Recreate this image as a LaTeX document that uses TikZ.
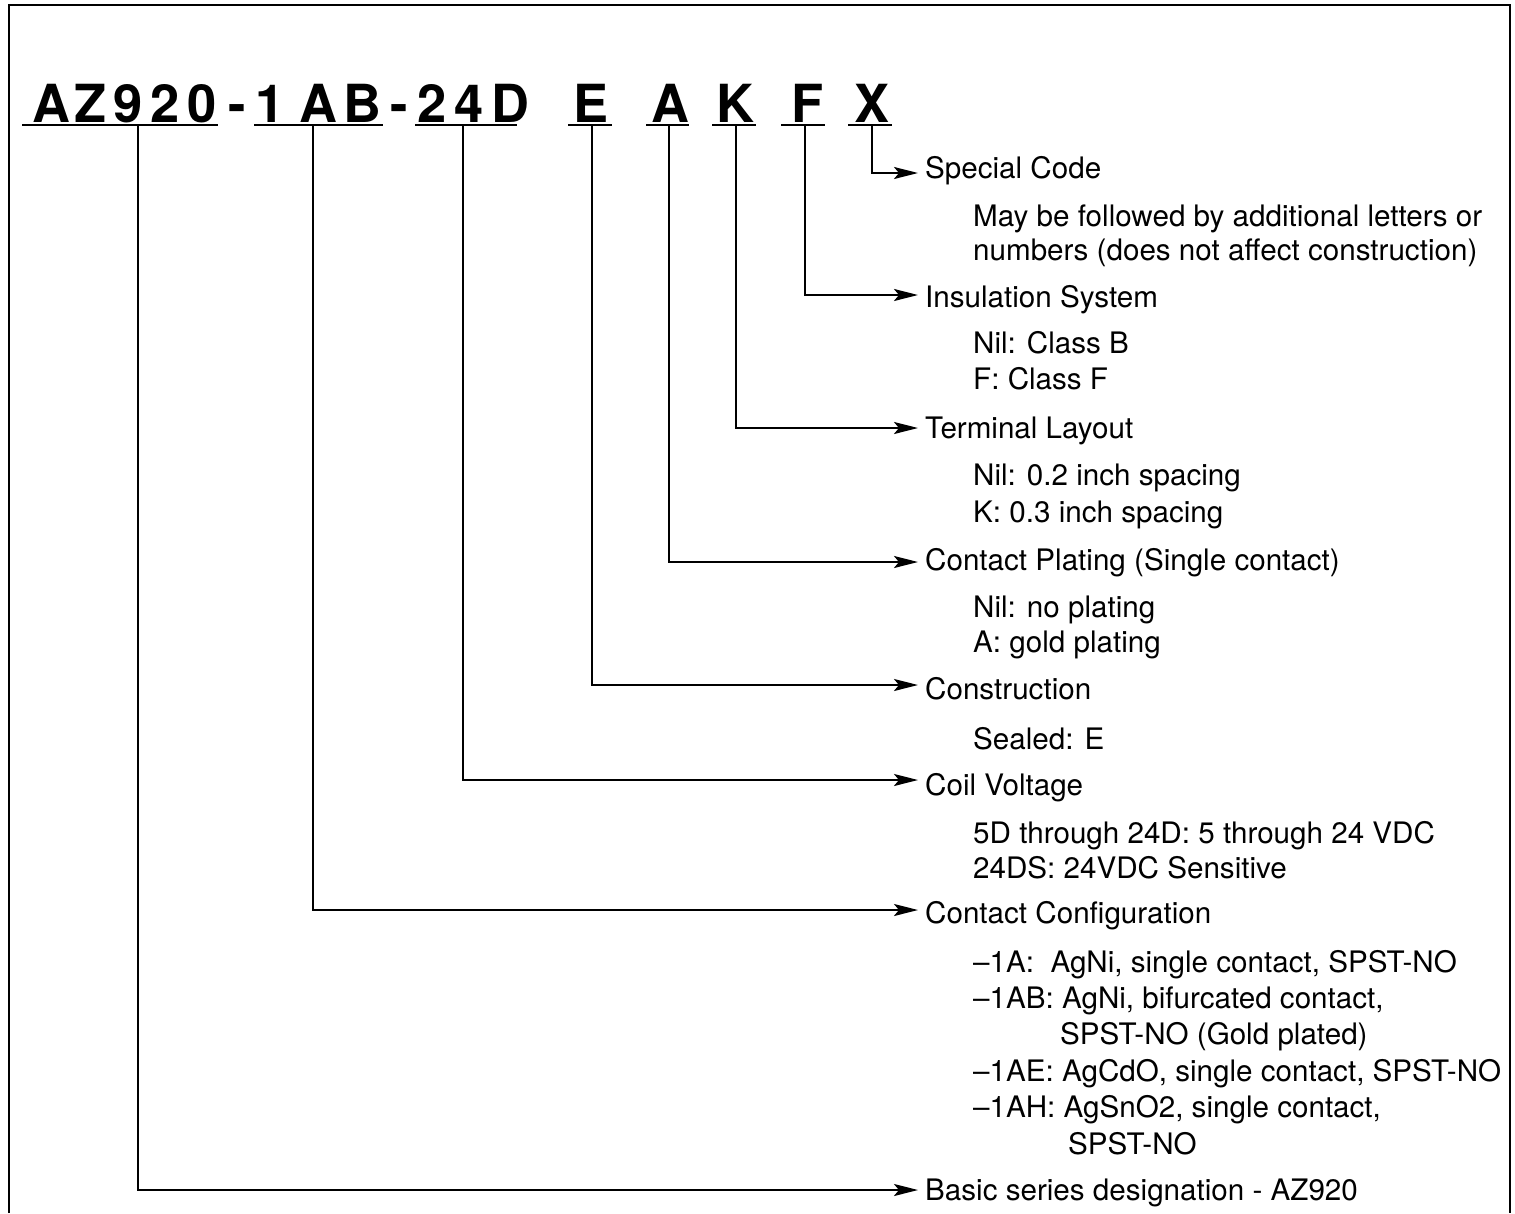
\documentclass[tikz,border=0pt]{standalone}
\usepackage{fontspec}
\setmainfont{TeX Gyre Heros}
\usetikzlibrary{arrows.meta}
\tikzset{
  ttl/.style={font=\fontsize{52.5}{52}\selectfont\bfseries, anchor=base, inner sep=0pt},
  hd/.style={font=\fontsize{29.6}{34}\selectfont, anchor=base west, inner xsep=7pt, inner ysep=0pt},
  sub/.style={font=\fontsize{29.6}{34}\selectfont, anchor=base west, inner sep=0pt},
  conn/.style={-{Stealth[length=24pt,width=12pt,inset=5pt]}, line width=2.4pt},
  uline/.style={line width=2.4pt},
  frm/.style={line width=2.8pt}
}
\begin{document}
\begin{tikzpicture}[x=1pt,y=-1pt]
\useasboundingbox (0,0) rectangle (1515,1213);
% frame (open at the bottom)
\draw[frm] (9,1213) -- (9,5) -- (1510,5) -- (1510,1213);

% title characters
\node[ttl] (c1) at (51.5,122) {A};
\node[ttl] (c2) at (91,122) {Z};
\node[ttl] (c3) at (128,122) {9};
\node[ttl] (c4) at (165,122) {2};
\node[ttl] (c5) at (202,122) {0};
\node[ttl] (c6) at (237,122) {-};
\node[ttl] (c7) at (270,122) {1};
\node[ttl] (c8) at (318,122) {A};
\node[ttl] (c9) at (362,122) {B};
\node[ttl] (c10) at (399,122) {-};
\node[ttl] (c11) at (432,122) {2};
\node[ttl] (c12) at (469,122) {4};
\node[ttl] (c13) at (510,122) {D};
\node[ttl] (c14) at (591,122) {E};
\node[ttl] (c15) at (670,122) {A};
\node[ttl] (c16) at (735,122) {K};
\node[ttl] (c17) at (808,122) {F};
\node[ttl] (c18) at (872,122) {X};

% underlines
\draw[uline] (22,125) -- (218,125);
\draw[uline] (254,125) -- (383,125);
\draw[uline] (415,125) -- (517,125);
\draw[uline] (568,125) -- (612,125);
\draw[uline] (646,125) -- (689,125);
\draw[uline] (712,125) -- (756,125);
\draw[uline] (781,125) -- (825,125);
\draw[uline] (848,125) -- (892,125);

% connector start points
\coordinate (uAZ) at (138,125);
\coordinate (uAB) at (313,125);
\coordinate (uD) at (463,125);
\coordinate (uE) at (592,125);
\coordinate (uA) at (669,125);
\coordinate (uK) at (736,125);
\coordinate (uF) at (805,125);
\coordinate (uX) at (872,125);

% headings
\node[hd] (lX) at (918,178) {Special Code};
\node[hd] (lF) at (918,307) {Insulation System};
\node[hd] (lK) at (918,438) {Terminal Layout};
\node[hd] (lA) at (918,570) {Contact Plating (Single contact)};
\node[hd] (lE) at (918,699) {Construction};
\node[hd] (lD) at (918,795) {Coil Voltage};
\node[hd] (lAB) at (918,923) {Contact Configuration};
\node[hd] (lAZ) at (918,1200) {Basic series designation - AZ920};

% sub texts
\node[sub] (sX1) at (973,226) {May be followed by additional letters or};
\node[sub] (sX2) at (973,260) {numbers (does not affect construction)};
\node[sub] (sF1) at (973,353) {Nil: Class B};
\node[sub] (sF2) at (973,389) {F: Class F};
\node[sub] (sK1) at (973,485) {Nil: 0.2 inch spacing};
\node[sub] (sK2) at (973,522) {K: 0.3 inch spacing};
\node[sub] (sA1) at (973,617) {Nil: no plating};
\node[sub] (sA2) at (973,652) {A: gold plating};
\node[sub] (sE1) at (973,749) {Sealed: E};
\node[sub] (sD1) at (973,843) {5D through 24D: 5 through 24 VDC};
\node[sub] (sD2) at (973,878) {24DS: 24VDC Sensitive};
\node[sub] (sC1) at (973,972) {–1A:\ \ AgNi, single contact, SPST-NO};
\node[sub] (sC2) at (973,1008) {–1AB: AgNi, bifurcated contact,};
\node[sub] (sC3) at (1060,1044) {SPST-NO (Gold plated)};
\node[sub] (sC4) at (973,1081) {–1AE: AgCdO, single contact, SPST-NO};
\node[sub] (sC5) at (973,1117) {–1AH: AgSnO2, single contact,};
\node[sub] (sC6) at (1068,1154) {SPST-NO};

% connectors
\draw[conn] (uX) |- ([yshift=5pt]lX.base west);
\draw[conn] (uF) |- ([yshift=12pt]lF.base west);
\draw[conn] (uK) |- ([yshift=10pt]lK.base west);
\draw[conn] (uA) |- ([yshift=8pt]lA.base west);
\draw[conn] (uE) |- ([yshift=14pt]lE.base west);
\draw[conn] (uD) |- ([yshift=15pt]lD.base west);
\draw[conn] (uAB) |- ([yshift=13pt]lAB.base west);
\draw[conn] (uAZ) |- ([yshift=10pt]lAZ.base west);
\end{tikzpicture}
\end{document}
